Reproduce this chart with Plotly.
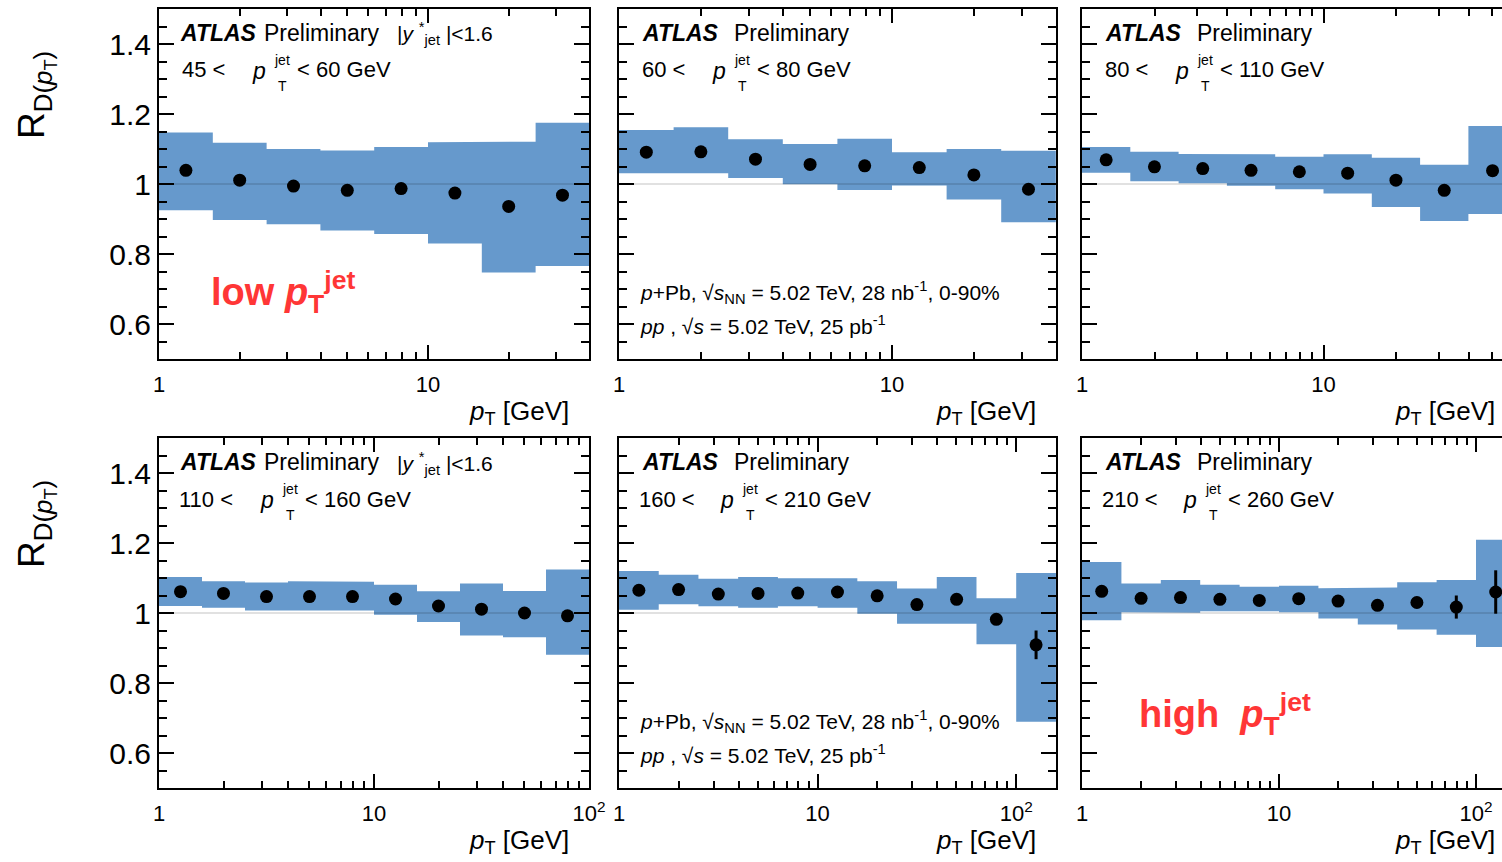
import math
import plotly.graph_objects as go

W, H = 1502, 862
FONT = "Liberation Sans"
BAND = "#6699cc"
RED = "#ff3636"

# Track-pT binning (GeV), five logarithmic bins per decade
bin_edges = [1.0, 1.585, 2.512, 3.981, 6.310, 10.0, 15.85, 25.12, 39.81, 63.10, 100.0, 158.5]
bin_centres = [1.259, 1.995, 3.162, 5.012, 7.943, 12.59, 19.95, 31.62, 50.12, 79.43, 125.9]

# R_D(pT) per jet-pT interval: central value, systematic band (upper / lower), statistical error
jet_45_60 = ["45", "60"]
val_45_60 = [1.039, 1.011, 0.994, 0.982, 0.987, 0.974, 0.936, 0.968]
sys_hi_45_60 = [1.147, 1.118, 1.100, 1.096, 1.106, 1.119, 1.121, 1.175]
sys_lo_45_60 = [0.925, 0.897, 0.885, 0.867, 0.857, 0.830, 0.747, 0.766]
stat_45_60 = [0.003, 0.003, 0.003, 0.004, 0.005, 0.006, 0.009, 0.015]

jet_60_80 = ["60", "80"]
val_60_80 = [1.091, 1.092, 1.071, 1.056, 1.052, 1.047, 1.026, 0.985]
sys_hi_60_80 = [1.154, 1.162, 1.128, 1.114, 1.129, 1.091, 1.100, 1.095]
sys_lo_60_80 = [1.031, 1.031, 1.017, 0.999, 0.983, 0.996, 0.956, 0.891]
stat_60_80 = [0.003, 0.003, 0.003, 0.003, 0.004, 0.005, 0.007, 0.012]

jet_80_110 = ["80", "110"]
val_80_110 = [1.069, 1.049, 1.044, 1.039, 1.035, 1.031, 1.011, 0.982, 1.038]
sys_hi_80_110 = [1.106, 1.092, 1.086, 1.085, 1.078, 1.085, 1.075, 1.055, 1.166]
sys_lo_80_110 = [1.032, 1.008, 1.002, 0.995, 0.985, 0.973, 0.934, 0.894, 0.914]
stat_80_110 = [0.002, 0.002, 0.002, 0.003, 0.003, 0.004, 0.006, 0.009, 0.016]

jet_110_160 = ["110", "160"]
val_110_160 = [1.061, 1.056, 1.047, 1.047, 1.047, 1.040, 1.020, 1.011, 1.000, 0.992]
sys_hi_110_160 = [1.103, 1.091, 1.087, 1.091, 1.089, 1.081, 1.062, 1.084, 1.063, 1.124]
sys_lo_110_160 = [1.020, 1.015, 1.007, 1.006, 1.007, 0.995, 0.974, 0.936, 0.931, 0.881]
stat_110_160 = [0.002, 0.002, 0.002, 0.002, 0.003, 0.003, 0.004, 0.006, 0.010, 0.016]

jet_160_210 = ["160", "210"]
val_160_210 = [1.065, 1.067, 1.054, 1.056, 1.057, 1.060, 1.049, 1.024, 1.039, 0.982, 0.909]
sys_hi_160_210 = [1.120, 1.109, 1.098, 1.103, 1.099, 1.099, 1.091, 1.070, 1.103, 1.042, 1.114]
sys_lo_160_210 = [1.009, 1.025, 1.019, 1.015, 1.019, 1.015, 0.998, 0.969, 0.969, 0.911, 0.689]
stat_160_210 = [0.003, 0.003, 0.003, 0.003, 0.004, 0.004, 0.005, 0.007, 0.010, 0.016, 0.041]

jet_210_260 = ["210", "260"]
val_210_260 = [1.062, 1.042, 1.044, 1.039, 1.036, 1.041, 1.034, 1.022, 1.030, 1.017, 1.060]
sys_hi_210_260 = [1.146, 1.084, 1.094, 1.081, 1.075, 1.078, 1.071, 1.073, 1.088, 1.094, 1.209]
sys_lo_210_260 = [0.979, 1.002, 1.001, 1.005, 1.005, 1.002, 0.984, 0.967, 0.953, 0.938, 0.903]
stat_210_260 = [0.004, 0.004, 0.004, 0.004, 0.005, 0.005, 0.006, 0.009, 0.016, 0.033, 0.062]

y_tickvals = [0.6, 0.8, 1.0, 1.2, 1.4]
y_ticktext = ["0.6", "0.8", "1", "1.2", "1.4"]
x_tickvals = [1, 10, 100]
x_ticktext = ["1", "10", "10<sup>2</sup>"]


def px(x):
    return x / W


def py(y):
    return 1 - y / H


# Panel frames in pixels: (left, right, top, bottom), pixels per decade, column
panels = [
    dict(jet=jet_45_60, val=val_45_60, hi=sys_hi_45_60, lo=sys_lo_45_60, stat=stat_45_60,
         box=(159, 589, 9, 359), dec=269.0, col=0),
    dict(jet=jet_60_80, val=val_60_80, hi=sys_hi_60_80, lo=sys_lo_60_80, stat=stat_60_80,
         box=(619, 1056, 9, 359), dec=273.0, col=1),
    dict(jet=jet_80_110, val=val_80_110, hi=sys_hi_80_110, lo=sys_lo_80_110, stat=stat_80_110,
         box=(1082, 1502, 9, 359), dec=241.5, col=2),
    dict(jet=jet_110_160, val=val_110_160, hi=sys_hi_110_160, lo=sys_lo_110_160, stat=stat_110_160,
         box=(159, 589, 438, 788), dec=215.0, col=0),
    dict(jet=jet_160_210, val=val_160_210, hi=sys_hi_160_210, lo=sys_lo_160_210, stat=stat_160_210,
         box=(619, 1056, 438, 788), dec=198.6, col=1),
    dict(jet=jet_210_260, val=val_210_260, hi=sys_hi_210_260, lo=sys_lo_210_260, stat=stat_210_260,
         box=(1082, 1502, 438, 788), dec=197.0, col=2),
]

minor_x = [m * 10 ** k for k in range(0, 3) for m in range(2, 10)]
minor_y = [round(0.5 + 0.05 * i, 2) for i in range(21)]

fig = go.Figure()
layout = dict(
    width=W, height=H, margin=dict(l=0, r=0, t=0, b=0, autoexpand=False),
    paper_bgcolor="white", plot_bgcolor="white", showlegend=False,
    font=dict(family=FONT, color="black"),
)
annotations = []


def note(x, y, text, size, anchor="left", color="black", **kw):
    annotations.append(dict(x=px(x), y=py(y), xref="paper", yref="paper",
                            xanchor=anchor, yanchor="middle", text=text,
                            showarrow=False,
                            font=dict(family=FONT, size=size, color=color), **kw))


for i, p in enumerate(panels, start=1):
    sfx = "" if i == 1 else str(i)
    xa, ya = "x" + sfx, "y" + sfx
    left, right, top, bottom = p["box"]
    n = len(p["val"])
    log_hi = (right - left) / p["dec"]
    x_hi = 10 ** log_hi

    # systematic band: one stepped polygon (upper edge left->right, lower edge back)
    bx, by = [], []
    for k in range(n):
        bx += [bin_edges[k], bin_edges[k + 1]]
        by += [p["hi"][k], p["hi"][k]]
    for k in reversed(range(n)):
        bx += [bin_edges[k + 1], bin_edges[k]]
        by += [p["lo"][k], p["lo"][k]]
    fig.add_trace(go.Scatter(x=bx, y=by, fill="toself", fillcolor=BAND, mode="lines",
                             line=dict(width=0), xaxis=xa, yaxis=ya, hoverinfo="skip"))

    # unity reference line
    fig.add_trace(go.Scatter(x=[1, x_hi], y=[1, 1], mode="lines",
                             line=dict(color="rgba(0,0,0,0.16)", width=1.5),
                             xaxis=xa, yaxis=ya, hoverinfo="skip"))

    # data points with statistical uncertainties
    fig.add_trace(go.Scatter(x=bin_centres[:n], y=p["val"], mode="markers",
                             marker=dict(color="black", size=13),
                             error_y=dict(type="data", array=p["stat"], color="black",
                                          thickness=3, width=0),
                             xaxis=xa, yaxis=ya))

    show_right = p["col"] != 2
    layout["xaxis" + sfx] = dict(
        domain=[px(left), px(right)], anchor=ya, type="log", range=[0, log_hi],
        showline=True, linecolor="black", linewidth=2, mirror="ticks",
        ticks="inside", ticklen=14, tickwidth=2, tickcolor="black",
        tickmode="array", tickvals=x_tickvals, ticktext=x_ticktext,
        tickfont=dict(family=FONT, size=22, color="black"), ticklabelstandoff=5,
        showgrid=False, zeroline=False, automargin=False,
        minor=dict(tickmode="array", tickvals=minor_x, ticks="inside", ticklen=7,
                   tickwidth=2, tickcolor="black", showgrid=False),
    )
    layout["yaxis" + sfx] = dict(
        domain=[py(bottom), py(top)], anchor=xa, range=[0.5, 1.5],
        showline=True, linecolor="black", linewidth=2,
        mirror="ticks" if show_right else False,
        ticks="inside", ticklen=15, tickwidth=2, tickcolor="black",
        tickmode="array", tickvals=y_tickvals, ticktext=y_ticktext,
        showticklabels=p["col"] == 0,
        tickfont=dict(family=FONT, size=30, color="black"),
        showgrid=False, zeroline=False, automargin=False,
        minor=dict(tickmode="array", tickvals=minor_y, ticks="inside", ticklen=8,
                   tickwidth=2, tickcolor="black", showgrid=False),
    )

    # ATLAS label
    if p["col"] == 0:
        note(left + 19, top + 24, "<b><i>ATLAS</i></b>", 23)
        note(left + 103, top + 24, "Preliminary", 23)
        note(left + 236, top + 25,
             "|<i>y</i> <sup>*</sup><sub>jet</sub> |<1.6", 21)
    else:
        note(left + 21, top + 24, "<b><i>ATLAS</i></b>", 23)
        note(left + 113, top + 24, "Preliminary", 23)

    # jet-pT interval label with stacked super/subscript
    three = len(p["jet"][0]) == 3
    p_off = 99 if three else 91
    note(left + (18 if three else 21), top + 61, p["jet"][0] + " <", 22)
    note(left + p_off, top + 62, "<i>p</i>", 23)
    note(left + p_off + 32, top + 51, "jet", 14, anchor="center")
    note(left + p_off + 32, top + 77, "T", 14, anchor="center")
    note(left + p_off + 45, top + 61, "< " + p["jet"][1] + " GeV", 22)

    # collision-system labels in the middle column
    if p["col"] == 1:
        note(left + 19, top + 283,
             "<i>p</i>+Pb, √<i>s</i><sub>NN</sub> = 5.02 TeV, 28 nb<sup>-1</sup>, 0-90%", 21)
        note(left + 19, top + 316,
             "<i>pp</i> , √<i>s</i> = 5.02 TeV, 25 pb<sup>-1</sup>", 21)

    # x-axis title
    x_title = right - 18 if p["col"] != 2 else 1497
    note(x_title, bottom + 53, "<i>p</i><sub>T</sub> [GeV]", 26, anchor="right")

# y-axis titles
for y_c in (95, 524):
    note(36, y_c, "R<sub>D(<i>p</i><sub>T</sub>)</sub>", 37, anchor="center", textangle=-90)

# low / high jet-pT tags
note(209, 292, "<b>low <i>p</i><sub>T</sub><sup>jet</sup></b>", 38, color=RED)
note(1137, 714, "<b>high  <i>p</i><sub>T</sub><sup>jet</sup></b>", 38, color=RED)

layout["annotations"] = annotations
fig.update_layout(**layout)
fig.write_html("out.html")
